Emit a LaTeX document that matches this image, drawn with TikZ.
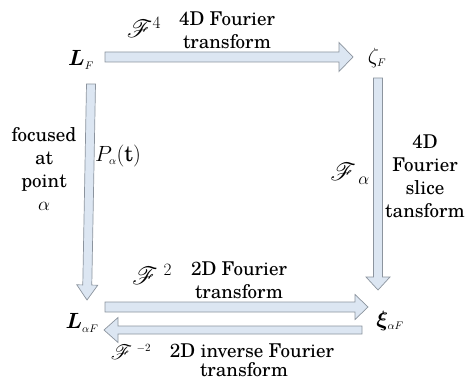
\RequirePackage{fix-cm}
\documentclass[tikz,border=0pt]{standalone}
\usepackage{amsmath,bm,mathrsfs}
\usepackage{fontspec}
\setmainfont{TeX Gyre Schola}
\definecolor{arrfill}{RGB}{220,230,242}
\definecolor{arrdraw}{RGB}{140,148,158}
\tikzset{
  blockarrow/.style={fill=arrfill,draw=arrdraw,line width=0.7pt,line join=miter},
  lbl/.style={inner sep=0pt,align=center},
  sym/.style={inner sep=0pt,font=\fontsize{22}{26}\selectfont},
  scr/.style={inner sep=0pt,font=\fontsize{24.88}{28}\selectfont},
}
\newcommand\barrow[7]{%
  \pgfmathsetmacro\bAng{atan2((#4)-(#2),(#3)-(#1))}%
  \pgfmathsetmacro\bLen{veclen((#3)-(#1),(#4)-(#2))}%
  \pgfmathsetmacro\bNeck{\bLen-(#7)}%
  \begin{scope}[shift={(#1,#2)},rotate=\bAng]
    \draw[blockarrow] (0,-#5) -- (\bNeck,-#5) -- (\bNeck,-#6) -- (\bLen,0)
      -- (\bNeck,#6) -- (\bNeck,#5) -- (0,#5) -- cycle;
  \end{scope}}
\begin{document}
\begin{tikzpicture}[x=1pt,y=1pt,font=\fontsize{19}{23}\selectfont]
\useasboundingbox (0,0) rectangle (470,380);
% block arrows
\barrow{105}{323}{353}{323}{5}{14.5}{14}
\barrow{91}{296}{87}{80}{4.5}{10.5}{15}
\barrow{378}{302}{378}{90}{4.5}{12}{13}
\barrow{105}{73}{368}{73}{5}{12.5}{13}
\barrow{362}{50}{104}{50}{4}{12.5}{14}
% nodes
\node[sym] (lf) at (81,320) {$\bm{L}_{\scriptscriptstyle F}$};
\node[sym] (zf) at (377,322) {$\zeta_{\scriptscriptstyle F}$};
\node[sym] (laf) at (82,57) {$\bm{L}_{\scriptscriptstyle \alpha F}$};
\node[sym] (xaf) at (390,59) {$\bm{\xi}_{\scriptscriptstyle \alpha F}$};
% labels
\node[scr] (f4) at (144,353) {$\mathscr{F}^{\scriptscriptstyle 4}$};
\node[lbl] (t1) at (227,350) {4D Fourier\\transform};
\node[lbl] (foc) at (44,211) {focused\\at\\point\\$\alpha$};
\node[sym] (pa) at (118,224) {$P_{\scriptscriptstyle\alpha}(\mathrm{t})$};
\node[scr] (fa) at (350,206) {$\mathscr{F}_{\;\scriptscriptstyle\alpha}$};
\node[lbl] (t2) at (425,204) {4D\\Fourier\\slice\\tansform};
\node[scr] (f2) at (152,106) {$\mathscr{F}^{\;\scriptscriptstyle 2}$};
\node[lbl] (t3) at (239,100) {2D Fourier\\transform};
\node[scr,font=\fontsize{22}{26}\selectfont] (fm2) at (131,28) {$\mathscr{F}^{\;\scriptscriptstyle -2}$};
\node[lbl] (t4) at (252,29) {2D inverse Fourier};
\node[lbl] (t5) at (244,10) {transform};
\end{tikzpicture}
\end{document}
